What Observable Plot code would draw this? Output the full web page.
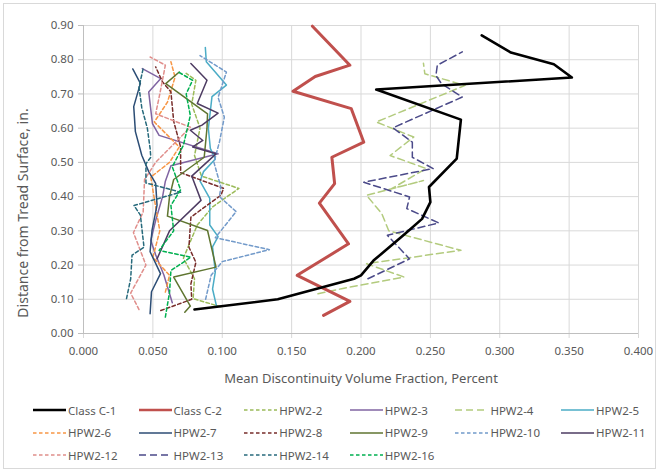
<!DOCTYPE html>
<html>
<head>
<meta charset="utf-8">
<script src="https://cdn.jsdelivr.net/npm/d3@7"></script>
<script src="https://cdn.jsdelivr.net/npm/@observablehq/plot@0.6"></script>
<style>
  body { margin: 0; background: #fff; font-family: "Noto Sans", sans-serif; }
  #wrap { position: relative; width: 659px; height: 472px; overflow: hidden; }
  #frame { position: absolute; left: 3px; top: 3px; width: 651px; height: 464px; border: 1px solid #d9d9d9; }
  #chart { position: absolute; left: 0; top: 0; }
  #ytitle { position: absolute; left: 22px; top: 213px; transform: translate(-50%, -50%) rotate(-90deg); font-size: 14px; color: #595959; white-space: nowrap; }
  .lg { position: absolute; display: flex; align-items: center; font-size: 11.5px; color: #595959; white-space: nowrap; }
  .lg svg { margin-right: 2px; }
</style>
</head>
<body>
<div id="wrap"><div id="frame"></div><div id="chart"></div><div id="ytitle"></div></div>
<script>
// Series data: [volume fraction (percent), distance from tread surface (in.)]
const classC1 = [[0.080,0.070],[0.140,0.100],[0.195,0.160],[0.200,0.170],[0.209,0.213],[0.232,0.292],[0.244,0.335],[0.250,0.384],[0.249,0.428],[0.269,0.511],[0.272,0.625],[0.211,0.713],[0.352,0.748],[0.339,0.787],[0.308,0.821],[0.287,0.871]];
const classC2 = [[0.173,0.053],[0.192,0.094],[0.154,0.170],[0.191,0.262],[0.170,0.381],[0.181,0.438],[0.179,0.515],[0.202,0.559],[0.193,0.657],[0.151,0.708],[0.167,0.751],[0.192,0.784],[0.165,0.898]];
const hpw2_2 = [[0.099,0.078],[0.079,0.102],[0.080,0.160],[0.072,0.220],[0.082,0.317],[0.093,0.370],[0.112,0.424],[0.085,0.460],[0.080,0.520],[0.084,0.600],[0.078,0.670],[0.081,0.740],[0.074,0.760]];
const hpw2_3 = [[0.064,0.090],[0.058,0.170],[0.052,0.230],[0.0485,0.272],[0.052,0.330],[0.057,0.400],[0.059,0.445],[0.063,0.490],[0.097,0.525],[0.0545,0.579],[0.0497,0.613],[0.047,0.706],[0.0557,0.745],[0.0424,0.774]];
const hpw2_4 = [[0.169,0.116],[0.186,0.131],[0.231,0.165],[0.204,0.204],[0.272,0.243],[0.220,0.300],[0.215,0.350],[0.204,0.404],[0.245,0.447],[0.222,0.423],[0.247,0.482],[0.221,0.520],[0.238,0.574],[0.211,0.618],[0.275,0.725],[0.246,0.759],[0.245,0.790]];
const hpw2_5 = [[0.096,0.078],[0.093,0.130],[0.095,0.180],[0.093,0.253],[0.097,0.283],[0.091,0.317],[0.091,0.395],[0.084,0.445],[0.0865,0.473],[0.095,0.510],[0.0914,0.541],[0.090,0.599],[0.0926,0.692],[0.103,0.726],[0.0885,0.794],[0.0878,0.836]];
const hpw2_6 = [[0.059,0.121],[0.062,0.170],[0.050,0.223],[0.055,0.300],[0.052,0.370],[0.0485,0.457],[0.062,0.500],[0.069,0.545],[0.051,0.618],[0.0605,0.676],[0.066,0.749],[0.063,0.794]];
const hpw2_7 = [[0.048,0.058],[0.049,0.122],[0.0555,0.175],[0.048,0.239],[0.0494,0.302],[0.053,0.375],[0.052,0.439],[0.047,0.473],[0.042,0.521],[0.0374,0.590],[0.0362,0.663],[0.041,0.731],[0.0355,0.773]];
const hpw2_8 = [[0.0557,0.067],[0.078,0.100],[0.0774,0.145],[0.081,0.208],[0.076,0.252],[0.0774,0.340],[0.099,0.404],[0.101,0.424],[0.070,0.470],[0.070,0.545],[0.065,0.620],[0.063,0.706],[0.057,0.735],[0.052,0.779]];
const hpw2_9 = [[0.073,0.062],[0.077,0.080],[0.065,0.165],[0.0955,0.194],[0.0894,0.301],[0.0605,0.343],[0.062,0.400],[0.065,0.450],[0.087,0.515],[0.089,0.600],[0.0894,0.642],[0.0593,0.730],[0.069,0.764]];
const hpw2_10 = [[0.088,0.100],[0.092,0.170],[0.100,0.210],[0.134,0.245],[0.095,0.280],[0.110,0.356],[0.098,0.400],[0.099,0.428],[0.094,0.500],[0.098,0.560],[0.1015,0.632],[0.097,0.690],[0.103,0.764],[0.084,0.812]];
const hpw2_11 = [[0.053,0.218],[0.062,0.300],[0.0847,0.389],[0.078,0.460],[0.0955,0.525],[0.0787,0.545],[0.086,0.564],[0.077,0.594],[0.0854,0.609],[0.097,0.644],[0.082,0.672],[0.089,0.740],[0.0774,0.789]];
const hpw2_12 = [[0.040,0.070],[0.034,0.118],[0.045,0.200],[0.036,0.295],[0.043,0.355],[0.044,0.450],[0.052,0.500],[0.077,0.603],[0.052,0.642],[0.055,0.700],[0.059,0.784],[0.048,0.808]];
const hpw2_13 = [[0.205,0.160],[0.235,0.218],[0.219,0.287],[0.256,0.323],[0.233,0.365],[0.235,0.399],[0.202,0.442],[0.252,0.482],[0.237,0.515],[0.237,0.559],[0.223,0.601],[0.273,0.691],[0.258,0.730],[0.254,0.754],[0.255,0.784],[0.273,0.823]];
const hpw2_14 = [[0.031,0.102],[0.034,0.160],[0.035,0.229],[0.0436,0.252],[0.041,0.346],[0.0364,0.374],[0.070,0.413],[0.045,0.440],[0.045,0.496],[0.0485,0.515],[0.048,0.541],[0.046,0.600],[0.042,0.660],[0.040,0.720],[0.043,0.774]];
const hpw2_16 = [[0.059,0.048],[0.062,0.120],[0.063,0.184],[0.0774,0.223],[0.0545,0.243],[0.065,0.300],[0.063,0.374],[0.070,0.420],[0.064,0.487],[0.072,0.550],[0.077,0.637],[0.074,0.700],[0.0786,0.740],[0.068,0.765]];

const seriesNames = ["Class C-1","Class C-2","HPW2-2","HPW2-3","HPW2-4","HPW2-5","HPW2-6","HPW2-7","HPW2-8","HPW2-9","HPW2-10","HPW2-11","HPW2-12","HPW2-13","HPW2-14","HPW2-16"];
const seriesValues = [classC1,classC2,hpw2_2,hpw2_3,hpw2_4,hpw2_5,hpw2_6,hpw2_7,hpw2_8,hpw2_9,hpw2_10,hpw2_11,hpw2_12,hpw2_13,hpw2_14,hpw2_16];
const xTicks = [0,0.05,0.1,0.15,0.2,0.25,0.3,0.35,0.4];
const yTicks = [0,0.1,0.2,0.3,0.4,0.5,0.6,0.7,0.8,0.9];
const xTitle = "Mean Discontinuity Volume Fraction, Percent";
const yTitle = "Distance from Tread Surface, in.";

// styles (not data)
const styles = {
  "Class C-1": {stroke:"#000000", w:2.6, dash:null},
  "Class C-2": {stroke:"#C0504D", w:3, dash:null},
  "HPW2-2": {stroke:"#9BBB59", w:1.5, dash:"3.5,2.5"},
  "HPW2-3": {stroke:"#8064A2", w:1.5, dash:null},
  "HPW2-4": {stroke:"#B3CB7E", w:1.5, dash:"7,4"},
  "HPW2-5": {stroke:"#4BACC6", w:1.5, dash:null},
  "HPW2-6": {stroke:"#F79646", w:1.5, dash:"3.5,2.5"},
  "HPW2-7": {stroke:"#2C4D75", w:1.5, dash:null},
  "HPW2-8": {stroke:"#772C2A", w:1.5, dash:"3.5,2.5"},
  "HPW2-9": {stroke:"#5F7530", w:1.5, dash:null},
  "HPW2-10": {stroke:"#729ACA", w:1.5, dash:"3.5,2.5"},
  "HPW2-11": {stroke:"#4D3B62", w:1.5, dash:null},
  "HPW2-12": {stroke:"#E08E8B", w:1.5, dash:"3.5,2.5"},
  "HPW2-13": {stroke:"#4B4A89", w:1.5, dash:"7,4"},
  "HPW2-14": {stroke:"#276A7C", w:1.5, dash:"3.5,2.5"},
  "HPW2-16": {stroke:"#00B050", w:1.5, dash:"3.5,2.5"}
};

const tables = seriesNames.map((name, i) => ({name, rows: seriesValues[i].map(([x, y]) => ({x, y, name}))}));
const drawOrder = tables.slice(2).concat([tables[1], tables[0]]);

const grid = "#d9d9d9";
const textColor = "#595959";

const chart = Plot.plot({
  width: 659,
  height: 396,
  marginLeft: 83,
  marginRight: 21,
  marginTop: 25,
  marginBottom: 63,
  style: {fontFamily: "Noto Sans, sans-serif", fontSize: "11.5px", color: textColor, background: "transparent"},
  x: {domain: [0, 0.4], ticks: xTicks, tickFormat: d3.format(".3f"), label: null},
  y: {domain: [0, 0.9], ticks: yTicks, tickFormat: d3.format(".2f"), label: null},
  marks: [
    Plot.gridX(xTicks, {stroke: grid, strokeOpacity: 1, strokeWidth: 1}),
    Plot.gridY(yTicks, {stroke: grid, strokeOpacity: 1, strokeWidth: 1}),
    Plot.axisX({ticks: xTicks, tickFormat: d3.format(".3f"), tickSize: 5, tickPadding: 8, stroke: grid, fill: textColor, label: null}),
    Plot.axisY({ticks: yTicks, tickFormat: d3.format(".2f"), tickSize: 5, tickPadding: 5, stroke: "#bfbfbf", fill: textColor, label: null}),
    Plot.ruleX([0], {stroke: "#bfbfbf"}),
    Plot.ruleY([0], {stroke: "#bfbfbf"}),
    ...drawOrder.map(t => Plot.line(t.rows, {x: "x", y: "y", stroke: styles[t.name].stroke, strokeWidth: styles[t.name].w, strokeDasharray: styles[t.name].dash || undefined, strokeLinejoin: "round", curve: "linear"})),
    Plot.text([xTitle], {frameAnchor: "bottom", dy: 45, fill: textColor, fontSize: 13, lineAnchor: "middle"})
  ]
});
document.getElementById("chart").appendChild(chart);
document.getElementById("ytitle").textContent = yTitle;

// legend (HTML below the SVG)
const wrap = document.getElementById("wrap");
seriesNames.forEach((name, i) => {
  const col = i % 6, row = Math.floor(i / 6);
  const s = styles[name];
  const div = document.createElement("div");
  div.className = "lg";
  div.style.left = (33 + col * 105.6) + "px";
  div.style.top = (401 + row * 22.5) + "px";
  div.style.height = "18px";
  div.innerHTML = `<svg width="33" height="18"><line x1="0" x2="33" y1="9" y2="9" stroke="${s.stroke}" stroke-width="${Math.min(s.w, 2.6)}" ${s.dash ? `stroke-dasharray="${s.dash}"` : ""}/></svg><span>${name}</span>`;
  wrap.appendChild(div);
});
</script>
</body>
</html>
